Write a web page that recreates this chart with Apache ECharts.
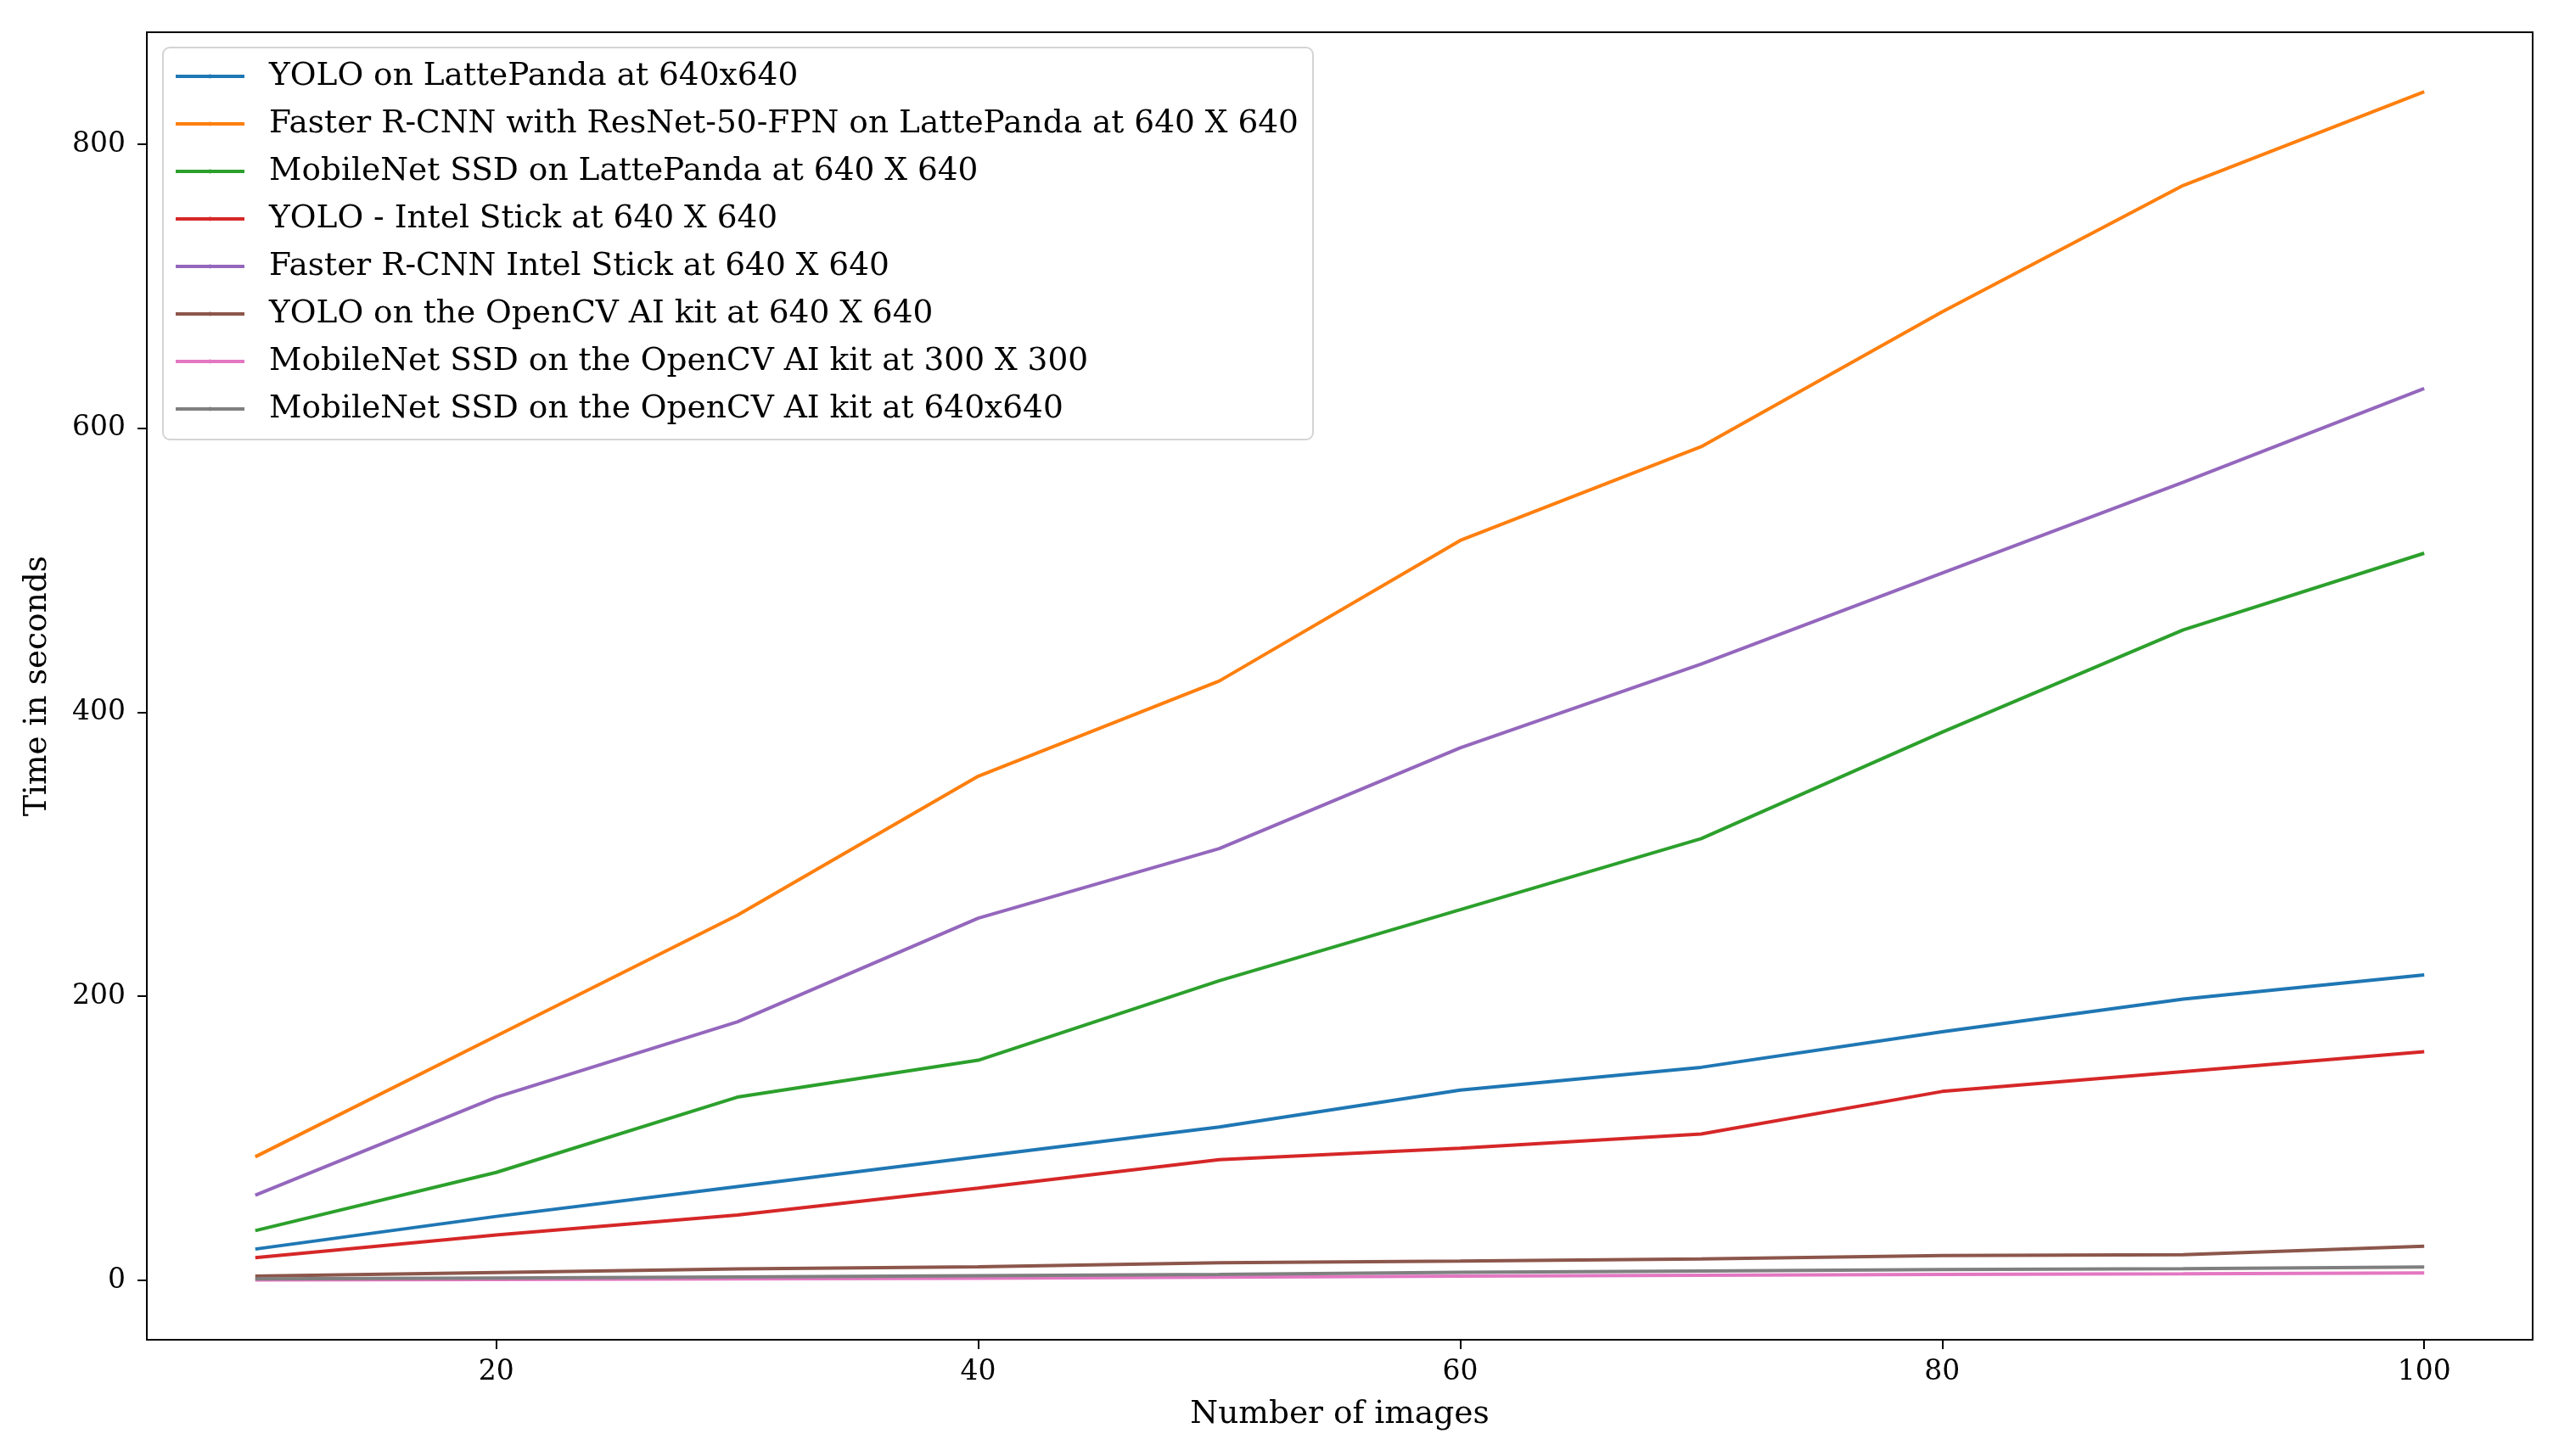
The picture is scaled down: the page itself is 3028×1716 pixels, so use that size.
<!DOCTYPE html>
<html>
<head>
<meta charset="utf-8">
<script src="https://cdn.jsdelivr.net/npm/echarts@6/dist/echarts.min.js"></script>
<style>html,body{margin:0;padding:0;background:#fff;}#c{width:3028px;height:1716px;}</style>
</head>
<body>
<div id="c"></div>
<script>
const images = [10, 20, 30, 40, 50, 60, 70, 80, 90, 100];
const xTicks = [20, 40, 60, 80, 100];
const yTicks = [0, 200, 400, 600, 800];
const seriesNames = [
  'YOLO on LattePanda at 640x640',
  'Faster R-CNN with ResNet-50-FPN on LattePanda at 640 X 640',
  'MobileNet SSD on LattePanda at 640 X 640',
  'YOLO - Intel Stick at 640 X 640',
  'Faster R-CNN Intel Stick at 640 X 640',
  'YOLO on the OpenCV AI kit at 640 X 640',
  'MobileNet SSD on the OpenCV AI kit at 300 X 300',
  'MobileNet SSD on the OpenCV AI kit at 640x640'
];
const yoloLatte = [22, 45, 66, 87, 108, 134, 150, 175, 198, 215];
const frcnnLatte = [87, 172, 257, 355, 422, 521, 587, 682, 771, 837];
const mobileLatte = [35, 76, 129, 155, 211, 261, 311, 386, 458, 512];
const yoloIntel = [16, 32, 46, 65, 85, 93, 103, 133, 147, 161];
const frcnnIntel = [60, 129, 182, 255, 304, 375, 434, 498, 562, 628];
const yoloOak = [3, 5.5, 8, 9.6, 12.4, 13.5, 15.1, 17.5, 18, 24];
const mobileOak300 = [0.3, 0.6, 1.0, 1.5, 2.2, 3.0, 3.6, 4.2, 4.6, 5.2];
const mobileOak640 = [1.0, 1.6, 2.3, 3.2, 4.2, 5.6, 6.6, 7.6, 8.2, 9.4];
const allValues = [yoloLatte, frcnnLatte, mobileLatte, yoloIntel, frcnnIntel, yoloOak, mobileOak300, mobileOak640];
const colors = ['#1f77b4', '#ff7f0e', '#2ca02c', '#d62728', '#9467bd', '#8c564b', '#e377c2', '#7f7f7f'];

const FONT = 'DejaVu Serif';
const FS = 33;
const FL = 37.5;

const chart = echarts.init(document.getElementById('c'), null, {renderer: 'canvas'});
chart.setOption({
  backgroundColor: '#fff',
  animation: false,
  color: colors,
  textStyle: {fontFamily: FONT},
  grid: {left: 173, right: 44, top: 38, bottom: 137, show: true, borderColor: '#000', borderWidth: 2, containLabel: false},
  legend: {
    orient: 'vertical',
    left: 192,
    top: 56,
    data: seriesNames,
    itemWidth: 81,
    itemHeight: 6,
    itemGap: 12,
    padding: [12, 17, 14, 13],
    borderColor: '#d4d4d4',
    borderWidth: 2,
    borderRadius: 8,
    backgroundColor: 'rgba(255,255,255,0.8)',
    lineStyle: {width: 4},
    textStyle: {fontFamily: FONT, fontSize: FL, color: '#000', lineHeight: 44, padding: [0, 0, 0, 24]}
  },
  xAxis: {
    type: 'value',
    min: 5.5,
    max: 104.5,
    name: 'Number of images',
    nameLocation: 'middle',
    nameGap: 69,
    nameTextStyle: {fontFamily: FONT, fontSize: FL, color: '#000'},
    axisLine: {show: true, onZero: false, lineStyle: {color: '#000', width: 2}},
    axisTick: {show: true, length: 11, lineStyle: {color: '#000', width: 2}, customValues: xTicks},
    axisLabel: {fontFamily: FONT, fontSize: FS, color: '#000', margin: 22, customValues: xTicks},
    splitLine: {show: false}
  },
  yAxis: {
    type: 'value',
    min: -41.85,
    max: 878.85,
    name: 'Time in seconds',
    nameLocation: 'middle',
    nameRotate: 90,
    nameGap: 110,
    nameTextStyle: {fontFamily: FONT, fontSize: FL, color: '#000'},
    axisLine: {show: true, onZero: false, lineStyle: {color: '#000', width: 2}},
    axisTick: {show: true, length: 11, lineStyle: {color: '#000', width: 2}, customValues: yTicks},
    axisLabel: {fontFamily: FONT, fontSize: FS, color: '#000', margin: 25, customValues: yTicks},
    splitLine: {show: false}
  },
  series: seriesNames.map((name, i) => ({
    name: name,
    type: 'line',
    symbol: 'none',
    showSymbol: false,
    lineStyle: {width: 4, color: colors[i]},
    itemStyle: {color: colors[i]},
    data: images.map((x, j) => [x, allValues[i][j]])
  }))
});
</script>
</body>
</html>
